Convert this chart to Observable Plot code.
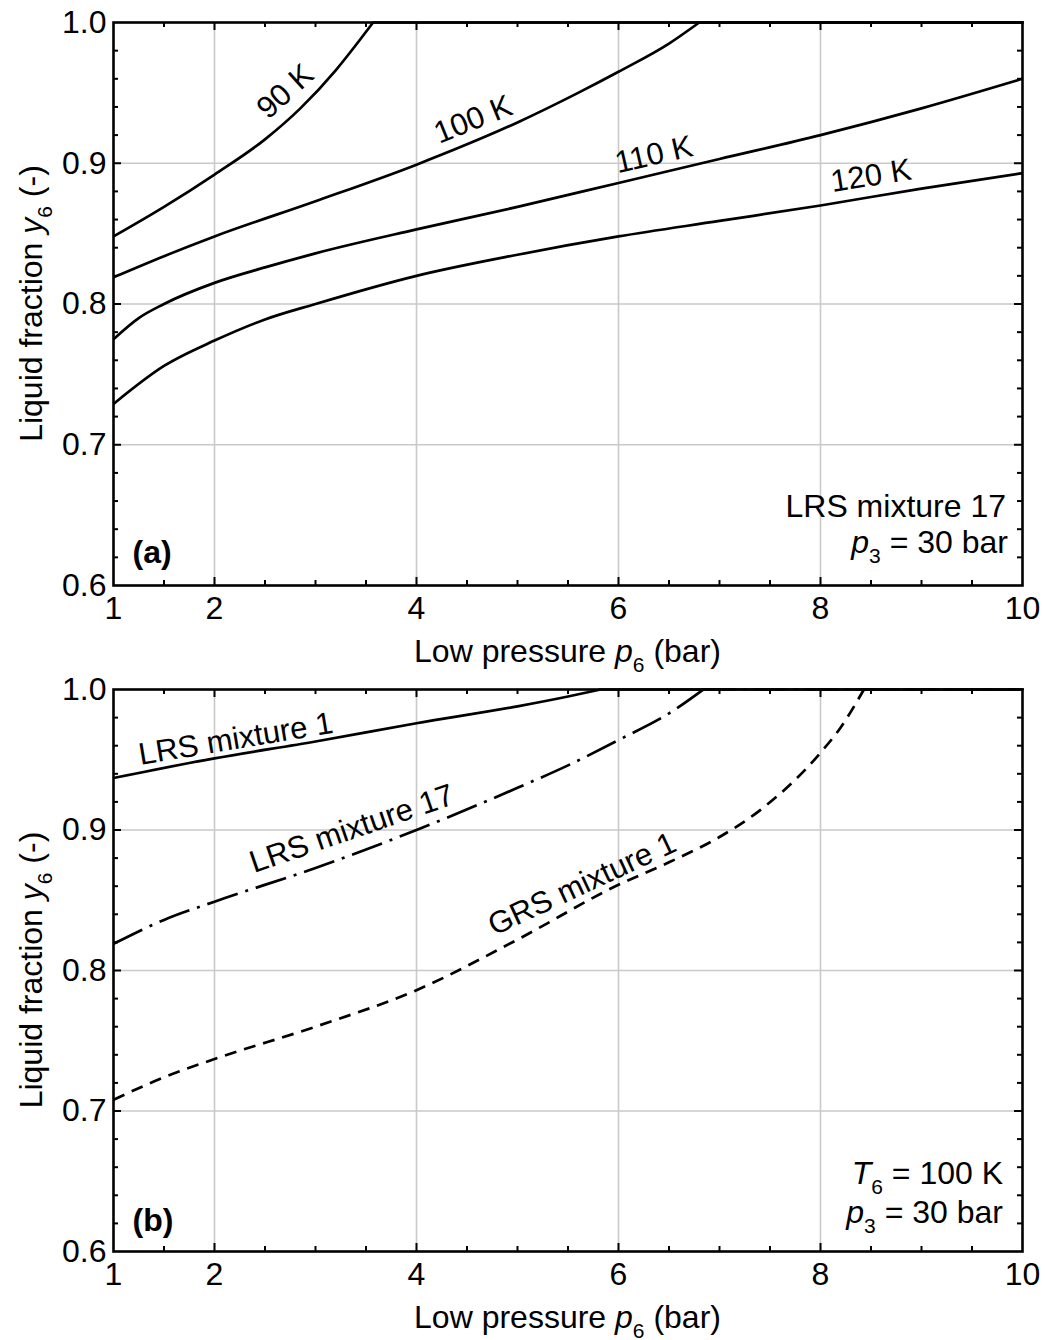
<!DOCTYPE html>
<html>
<head>
<meta charset="utf-8">
<script src="https://cdn.jsdelivr.net/npm/d3@7"></script>
<script src="https://cdn.jsdelivr.net/npm/@observablehq/plot@0.6"></script>
<style>
  body { margin: 0; background: #fff; }
  #chart { width: 1045px; }
  #chart svg { display: block; overflow: visible; }
</style>
</head>
<body>
<div id="chart"></div>
<script>
// ---------- axes ----------
const xTicks = [1, 2, 4, 6, 8, 10];
const yTicks = [0.6, 0.7, 0.8, 0.9, 1.0];
const xGrid = [2, 4, 6, 8];
const yGrid = [0.7, 0.8, 0.9];
const xMinor = [1.5, 2.5, 3, 3.5, 4.5, 5, 5.5, 6.5, 7, 7.5, 8.5, 9, 9.5];
const yMinor = [0.62, 0.64, 0.66, 0.68, 0.72, 0.74, 0.76, 0.78, 0.82, 0.84, 0.86, 0.88, 0.92, 0.94, 0.96, 0.98];

// ---------- panel (a): LRS mixture 17, p3 = 30 bar ----------
const p90 = [1, 1.5, 2, 2.5, 2.85, 3.2, 3.4, 3.57];
const y90 = [0.848, 0.869, 0.892, 0.917, 0.939, 0.966, 0.984, 1.0];
const p100 = [1, 1.5, 2, 3, 4, 5, 5.6, 6, 6.5, 6.8];
const y100 = [0.819, 0.834, 0.848, 0.873, 0.899, 0.929, 0.950, 0.965, 0.985, 1.0];
const p110 = [1, 1.25, 1.5, 2, 2.5, 3, 4, 5, 6, 7, 8, 9, 10];
const y110 = [0.775, 0.790, 0.800, 0.815, 0.826, 0.836, 0.853, 0.869, 0.886, 0.903, 0.920, 0.939, 0.960];
const p120 = [1, 1.5, 2, 2.5, 3, 4, 5, 6, 7, 8, 9, 10];
const y120 = [0.729, 0.756, 0.774, 0.789, 0.800, 0.820, 0.835, 0.848, 0.859, 0.870, 0.882, 0.893];

const labelsA = ["90 K", "100 K", "110 K", "120 K"];
const labelAX = [2.70, 4.56, 6.35, 8.50];
const labelAY = [0.951, 0.931, 0.906, 0.891];
const labelARot = [-42, -22, -13, -9];

// ---------- panel (b): T6 = 100 K, p3 = 30 bar ----------
const pLRS1 = [1, 2, 3, 4, 5, 5.5, 5.82];
const yLRS1 = [0.937, 0.951, 0.963, 0.976, 0.988, 0.995, 1.0];
const pLRS17 = [1, 1.5, 2, 3, 4, 5, 5.5, 6, 6.5, 6.84];
const yLRS17 = [0.819, 0.836, 0.849, 0.873, 0.900, 0.930, 0.946, 0.964, 0.983, 1.0];
const pGRS1 = [1, 1.5, 2, 3, 4, 5, 6, 6.5, 7, 7.4, 8, 8.2, 8.43];
const yGRS1 = [0.708, 0.724, 0.737, 0.760, 0.786, 0.822, 0.861, 0.877, 0.895, 0.914, 0.955, 0.973, 1.0];

const labelsB = ["LRS mixture 1", "LRS mixture 17", "GRS mixture 1"];
const labelBX = [2.21, 3.36, 5.64];
const labelBY = [0.9648, 0.9008, 0.8615];
const labelBRot = [-9.5, -19, -25];

const FONT = "'Liberation Sans', Arial, Helvetica, sans-serif";
const FS = 32;      // ticks, titles, annotations
const FL = 31;      // curve labels
const SUB = 21, SUBDY = 10;
const W = 1045, H = 670;
const LW = 2.7;

function series(p, y) { return p.map((x, i) => ({x, y: y[i]})); }
function flatTail(p) { return [{x: p[p.length - 1], y: 1.0}, {x: 10, y: 1.0}]; }

function panel(cfg) {
  const {mt, mb, ml, mr} = cfg;
  const innerH = H - mt - mb, innerW = W - ml - mr;
  const marks = [
    Plot.ruleX(xGrid, {stroke: "#c9c9c9", strokeWidth: 1.6}),
    Plot.ruleY(yGrid, {stroke: "#c9c9c9", strokeWidth: 1.6}),
  ];
  for (const s of cfg.lines) {
    marks.push(Plot.line(series(s.p, s.y), {x: "x", y: "y", curve: "monotone-x", stroke: "black",
      strokeWidth: LW, strokeDasharray: s.dash, strokeLinecap: "butt"}));
    if (s.y[s.y.length - 1] >= 1.0) {
      marks.push(Plot.line(flatTail(s.p), {x: "x", y: "y", stroke: "black", strokeWidth: LW, strokeDasharray: s.dash}));
    }
  }
  // inward ticks on all four sides
  const tk = {stroke: "black", strokeWidth: 2};
  marks.push(
    Plot.tickX(xMinor, {x: d => d, ...tk, insetTop: innerH - 5}),
    Plot.tickX(xMinor, {x: d => d, ...tk, insetBottom: innerH - 5}),
    Plot.tickX(xGrid, {x: d => d, ...tk, insetTop: innerH - 8}),
    Plot.tickX(xGrid, {x: d => d, ...tk, insetBottom: innerH - 8}),
    Plot.tickY(yMinor, {y: d => d, ...tk, insetRight: innerW - 5}),
    Plot.tickY(yMinor, {y: d => d, ...tk, insetLeft: innerW - 5}),
    Plot.tickY(yGrid, {y: d => d, ...tk, insetRight: innerW - 8}),
    Plot.tickY(yGrid, {y: d => d, ...tk, insetLeft: innerW - 8}),
    Plot.frame({stroke: "black", strokeWidth: 2.6}),
    Plot.axisX({ticks: xTicks, tickSize: 0, tickPadding: 11, label: null, fontSize: FS, tickFormat: d => String(d)}),
    Plot.axisY({ticks: yTicks, tickSize: 0, tickPadding: 7, label: null, fontSize: FS, tickFormat: d => d.toFixed(1)}),
    Plot.text(cfg.labels, {x: (d, i) => cfg.lx[i], y: (d, i) => cfg.ly[i], text: d => d,
      rotate: (d, i) => cfg.lr[i], fontSize: FL, fill: "black", textAnchor: "middle", lineAnchor: "middle"}),
    Plot.text([cfg.tag], {frameAnchor: "bottom-left", dx: 19, dy: -cfg.tagUp, text: d => d, fontSize: FS,
      fontWeight: "bold", textAnchor: "start", lineAnchor: "bottom", fill: "black"})
  );
  const svg = Plot.plot({
    width: W, height: H,
    marginTop: mt, marginBottom: mb, marginLeft: ml, marginRight: mr,
    x: {domain: [1, 10], label: null},
    y: {domain: [0.6, 1.0], label: null},
    style: {fontFamily: FONT, fontSize: FS + "px", background: "transparent", color: "black", overflow: "visible"},
    marks
  });
  return svg;
}

function addRich(svg, {x, y, anchor = "start", rotate = 0, parts, size = FS}) {
  const t = d3.select(svg).append("text")
    .attr("transform", `translate(${x},${y}) rotate(${rotate})`)
    .attr("text-anchor", anchor)
    .attr("font-size", size)
    .attr("font-family", FONT)
    .attr("fill", "black");
  let shifted = 0;
  for (const p of parts) {
    const s = t.append("tspan").text(p.t);
    if (p.italic) s.attr("font-style", "italic");
    const want = p.sub ? SUBDY : 0;
    if (want !== shifted) { s.attr("dy", want - shifted); shifted = want; }
    if (p.sub) s.attr("font-size", SUB);
  }
}

const xTitle = [{t: "Low pressure "}, {t: "p", italic: true}, {t: "6", sub: true}, {t: " (bar)"}];
const yTitle = [{t: "Liquid fraction "}, {t: "y", italic: true}, {t: "6", sub: true}, {t: " (-)"}];
const p3Line = [{t: "p", italic: true}, {t: "3", sub: true}, {t: " = 30 bar"}];
const t6Line = [{t: "T", italic: true}, {t: "6", sub: true}, {t: " = 100 K"}];

const root = document.getElementById("chart");

// Panel (a)
const cfgA = {mt: 22, mb: 85, ml: 113, mr: 23, tag: "(a)", tagUp: 23,
  lines: [
    {p: p90, y: y90}, {p: p100, y: y100}, {p: p110, y: y110}, {p: p120, y: y120}
  ],
  labels: labelsA, lx: labelAX, ly: labelAY, lr: labelARot};
const svgA = panel(cfgA);
root.appendChild(svgA);
addRich(svgA, {x: 567.5, y: 662, anchor: "middle", parts: xTitle});
addRich(svgA, {x: 42, y: 303.5, anchor: "middle", rotate: -90, parts: yTitle});
addRich(svgA, {x: 1006, y: 517, anchor: "end", parts: [{t: "LRS mixture 17"}]});
addRich(svgA, {x: 1008, y: 553, anchor: "end", parts: p3Line});

// Panel (b)
const cfgB = {mt: 19, mb: 89, ml: 113, mr: 23, tag: "(b)", tagUp: 21,
  lines: [
    {p: pLRS1, y: yLRS1},
    {p: pLRS17, y: yLRS17, dash: "32,8,3,8"},
    {p: pGRS1, y: yGRS1, dash: "12,8"}
  ],
  labels: labelsB, lx: labelBX, ly: labelBY, lr: labelBRot};
const svgB = panel(cfgB);
root.appendChild(svgB);
addRich(svgB, {x: 567.5, y: 658, anchor: "middle", parts: xTitle});
addRich(svgB, {x: 42, y: 300, anchor: "middle", rotate: -90, parts: yTitle});
addRich(svgB, {x: 1003, y: 514, anchor: "end", parts: t6Line});
addRich(svgB, {x: 1003, y: 553, anchor: "end", parts: p3Line});
</script>
</body>
</html>
